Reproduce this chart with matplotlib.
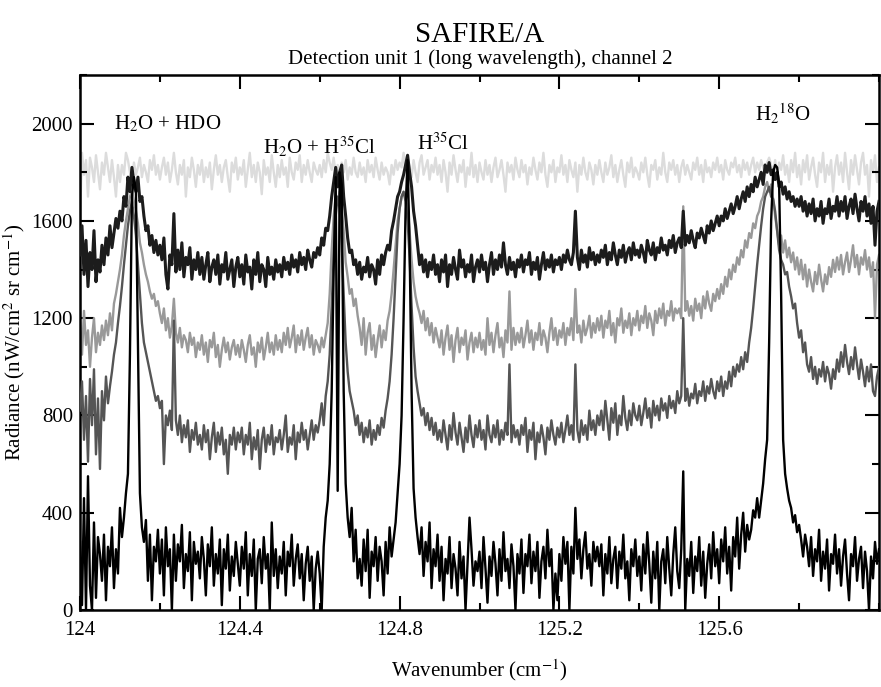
import numpy as np
import matplotlib
matplotlib.use('Agg')
import matplotlib.pyplot as plt
from matplotlib.ticker import MultipleLocator

plt.rcParams['font.family'] = ['Liberation Serif', 'DejaVu Serif']
plt.rcParams['mathtext.fontset'] = 'stix'

# spectra sampled every 0.005 cm-1 starting at 124.0 (one row = 0.1 cm-1)
wn_start = 124.0
wn_step = 0.005

# light grey spectrum
spec_a = [
    1610, 1880, 1790, 1850, 1700, 1860, 1820, 1760, 1870, 1800, 1730, 1840, 1790, 1880, 1820, 1760, 1850, 1780, 1700, 1830,
    1760, 1830, 1790, 1880, 1850, 1800, 1770, 1840, 1790, 1820, 1860, 1780, 1830, 1800, 1760, 1850, 1810, 1870, 1790, 1830,
    1770, 1820, 1860, 1790, 1840, 1760, 1810, 1880, 1800, 1750, 1830, 1790, 1850, 1700, 1820, 1780, 1860, 1810, 1740, 1830,
    1790, 1850, 1760, 1820, 1780, 1840, 1730, 1810, 1870, 1790, 1830, 1760, 1820, 1850, 1780, 1720, 1840, 1800, 1860, 1770,
    1820, 1790, 1850, 1740, 1810, 1880, 1780, 1830, 1760, 1840, 1800, 1710, 1850, 1790, 1820, 1760, 1870, 1800, 1740, 1830,
    1780, 1850, 1790, 1820, 1740, 1860, 1800, 1770, 1840, 1810, 1870, 1760, 1830, 1790, 1850, 1800, 1760, 1840, 1810, 1790,
    1830, 1780, 1850, 1800, 1880, 1840, 1810, 1860, 1790, 1830, 1760, 1840, 1800, 1850, 1770, 1820, 1790, 1860, 1800, 1780,
    1840, 1790, 1820, 1760, 1850, 1800, 1830, 1780, 1860, 1810, 1770, 1840, 1790, 1820, 1800, 1750, 1830, 1790, 1850, 1810,
    1840, 1820, 1880, 1800, 1860, 1820, 1780, 1850, 1800, 1760, 1840, 1870, 1790, 1820, 1850, 1770, 1830, 1800, 1860, 1790,
    1830, 1760, 1850, 1800, 1720, 1840, 1790, 1870, 1810, 1760, 1830, 1800, 1850, 1740, 1820, 1790, 1880, 1780, 1830, 1760,
    1840, 1800, 1770, 1850, 1790, 1830, 1760, 1820, 1860, 1780, 1810, 1850, 1790, 1720, 1840, 1800, 1830, 1770, 1860, 1810,
    1780, 1850, 1800, 1830, 1750, 1820, 1790, 1860, 1810, 1770, 1840, 1800, 1880, 1790, 1740, 1830, 1800, 1850, 1760, 1820,
    1800, 1870, 1790, 1830, 1760, 1850, 1810, 1780, 1840, 1720, 1830, 1790, 1860, 1800, 1770, 1840, 1810, 1750, 1830, 1790,
    1850, 1800, 1760, 1840, 1790, 1820, 1870, 1780, 1830, 1760, 1810, 1850, 1790, 1740, 1840, 1800, 1860, 1780, 1820, 1800,
    1770, 1840, 1800, 1860, 1790, 1740, 1830, 1810, 1850, 1770, 1820, 1790, 1880, 1800, 1760, 1840, 1810, 1850, 1790, 1830,
    1760, 1820, 1850, 1790, 1830, 1800, 1770, 1840, 1810, 1860, 1790, 1830, 1760, 1850, 1800, 1820, 1780, 1840, 1810, 1860,
    1800, 1830, 1770, 1850, 1810, 1790, 1840, 1820, 1860, 1800, 1830, 1780, 1850, 1810, 1840, 1790, 1830, 1860, 1800, 1840,
    1810, 1850, 1820, 1790, 1840, 1860, 1830, 1800, 1850, 1780, 1840, 1810, 1870, 1790, 1830, 1760, 1850, 1800, 1880, 1780,
    1830, 1750, 1850, 1800, 1870, 1770, 1820, 1860, 1790, 1740, 1840, 1800, 1880, 1760, 1830, 1790, 1850, 1720, 1820, 1870,
    1790, 1840, 1760, 1880, 1800, 1730, 1850, 1790, 1870, 1810, 1750, 1840, 1880, 1790, 1830, 1700, 1850, 1800, 1870, 1760,
    1820,
]

# near-black upper spectrum
spec_b = [
    1460, 1580, 1380, 1520, 1330, 1470, 1400, 1560, 1350, 1440, 1390, 1500, 1420, 1530, 1460, 1580, 1490, 1550, 1610, 1570,
    1640, 1600, 1700, 1660, 1780, 1720, 1820, 1760, 1720, 1780, 1680, 1700, 1620, 1560, 1580, 1500, 1540, 1470, 1520, 1460,
    1500, 1440, 1530, 1380, 1320, 1460, 1420, 1630, 1390, 1480, 1400, 1510, 1370, 1450, 1420, 1490, 1360, 1440, 1400, 1470,
    1380, 1450, 1360, 1420, 1470, 1350, 1410, 1440, 1380, 1460, 1340, 1420, 1390, 1470, 1360, 1400, 1440, 1330, 1410, 1450,
    1370, 1420, 1340, 1460, 1390, 1410, 1320, 1440, 1380, 1470, 1350, 1420, 1400, 1330, 1450, 1380, 1410, 1360, 1440, 1390,
    1420, 1370, 1450, 1400, 1430, 1380, 1460, 1410, 1440, 1390, 1470, 1420, 1450, 1400, 1480, 1440, 1410, 1470, 1450, 1490,
    1460, 1530, 1500, 1570, 1560, 1620, 1700, 1760, 1820, 1740, 1800, 1830, 1700, 1620, 1530, 1470, 1480, 1420, 1440, 1380,
    1430, 1360, 1410, 1390, 1450, 1370, 1420, 1400, 1340, 1440, 1380, 1460, 1420, 1470, 1500, 1480, 1560, 1600, 1650, 1700,
    1720, 1760, 1790, 1830, 1870, 1800, 1740, 1640, 1580, 1500, 1420, 1460, 1390, 1440, 1370, 1430, 1400, 1460, 1380, 1420,
    1350, 1440, 1390, 1460, 1330, 1420, 1380, 1450, 1400, 1360, 1480, 1410, 1440, 1370, 1420, 1390, 1460, 1350, 1410, 1440,
    1390, 1460, 1400, 1430, 1350, 1420, 1470, 1380, 1440, 1400, 1460, 1410, 1510, 1420, 1380, 1450, 1400, 1430, 1370, 1440,
    1410, 1460, 1390, 1440, 1420, 1470, 1380, 1430, 1400, 1450, 1360, 1420, 1470, 1400, 1440, 1410, 1460, 1390, 1440, 1420,
    1450, 1400, 1460, 1430, 1480, 1440, 1420, 1470, 1640, 1450, 1400, 1480, 1430, 1460, 1410, 1490, 1440, 1470, 1420, 1460,
    1430, 1480, 1450, 1500, 1420, 1470, 1440, 1510, 1460, 1420, 1480, 1450, 1500, 1430, 1470, 1490, 1440, 1510, 1460, 1480,
    1450, 1500, 1470, 1430, 1520, 1480, 1460, 1510, 1440, 1490, 1470, 1530, 1480, 1500, 1460, 1520, 1490, 1540, 1470, 1510,
    1530, 1490, 1640, 1500, 1540, 1510, 1560, 1520, 1490, 1550, 1530, 1570, 1540, 1510, 1580, 1550, 1600, 1560, 1590, 1620,
    1580, 1620, 1600, 1650, 1610, 1640, 1670, 1630, 1660, 1700, 1650, 1690, 1720, 1680, 1740, 1700, 1750, 1720, 1780, 1740,
    1770, 1800, 1750, 1830, 1800, 1840, 1790, 1810, 1770, 1800, 1740, 1760, 1710, 1740, 1690, 1720, 1680, 1700, 1660, 1690,
    1660, 1700, 1640, 1680, 1620, 1670, 1630, 1690, 1600, 1650, 1620, 1680, 1590, 1650, 1630, 1690, 1610, 1660, 1640, 1700,
    1620, 1680, 1640, 1700, 1610, 1660, 1690, 1630, 1710, 1650, 1600, 1680, 1640, 1700, 1620, 1670, 1590, 1660, 1500, 1640,
    1680,
]

# mid grey spectrum
spec_c = [
    1180, 1050, 1230, 1090, 1150, 1000, 1120, 1200, 1060, 1140, 1090, 1170, 1110, 1190, 1130, 1220, 1150, 1260, 1300, 1350,
    1400, 1460, 1540, 1600, 1650, 1700, 1720, 1680, 1640, 1590, 1510, 1470, 1420, 1380, 1350, 1310, 1280, 1300, 1250, 1270,
    1220, 1180, 1240, 1150, 1200, 1120, 1170, 1280, 1140, 1100, 1160, 1080, 1130, 1110, 1060, 1140, 1090, 1120, 1040, 1100,
    1070, 1130, 1050, 1100, 1020, 1110, 1080, 1140, 1040, 1090, 1000, 1070, 1120, 1060, 1100, 1030, 1080, 1110, 1050, 1090,
    1040, 1110, 1070, 1020, 1090, 1130, 1050, 1080, 1000, 1100, 1060, 1120, 1030, 1080, 1140, 1060, 1100, 1050, 1130, 1070,
    1110, 1060, 1140, 1090, 1160, 1080, 1120, 1170, 1060, 1130, 1090, 1150, 1070, 1120, 1160, 1080, 1130, 1050, 1110, 1090,
    1060, 1120, 1080, 1130, 1180, 1300, 1480, 1620, 1700, 1680, 1720, 1650, 1560, 1430, 1370, 1300, 1320, 1250, 1280, 1210,
    1160, 1090, 1200, 1050, 1140, 1180, 1070, 1130, 1040, 1110, 1170, 1080, 1150, 1110, 1190, 1230, 1300, 1400, 1500, 1600,
    1650, 1700, 1720, 1690, 1660, 1560, 1440, 1350, 1290, 1250, 1220, 1180, 1230, 1150, 1200, 1130, 1180, 1100, 1160, 1120,
    1080, 1150, 1050, 1120, 1170, 1070, 1130, 1020, 1110, 1160, 1060, 1120, 1090, 1150, 1030, 1100, 1140, 1060, 1120, 1080,
    1140, 1070, 1110, 1050, 1200, 1090, 1140, 1060, 1130, 1180, 1080, 1120, 1040, 1150, 1100, 1310, 1070, 1160, 1090, 1140,
    1100, 1160, 1080, 1130, 1190, 1100, 1150, 1070, 1140, 1110, 1180, 1090, 1150, 1120, 1060, 1140, 1200, 1110, 1160, 1090,
    1150, 1120, 1180, 1090, 1160, 1130, 1200, 1110, 1320, 1140, 1170, 1100, 1190, 1130, 1160, 1210, 1120, 1180, 1140, 1200,
    1150, 1210, 1120, 1190, 1160, 1230, 1130, 1180, 1100, 1200, 1170, 1240, 1140, 1190, 1160, 1220, 1130, 1200, 1170, 1230,
    1150, 1210, 1180, 1250, 1160, 1220, 1190, 1130, 1230, 1180, 1240, 1200, 1260, 1170, 1230, 1210, 1270, 1190, 1240, 1220,
    1240, 1200, 1660, 1230, 1270, 1210, 1250, 1190, 1280, 1230, 1260, 1200, 1290, 1240, 1310, 1260, 1230, 1300, 1270, 1320,
    1280, 1340, 1300, 1370, 1330, 1400, 1360, 1420, 1390, 1450, 1420, 1480, 1450, 1520, 1490, 1550, 1530, 1590, 1570, 1620,
    1640, 1680, 1700, 1740, 1760, 1720, 1750, 1690, 1620, 1560, 1500, 1540, 1470, 1520, 1450, 1490, 1430, 1470, 1400, 1450,
    1380, 1440, 1360, 1420, 1330, 1400, 1350, 1310, 1390, 1340, 1420, 1360, 1310, 1380, 1340, 1410, 1370, 1440, 1390, 1450,
    1400, 1460, 1380, 1430, 1470, 1390, 1440, 1500, 1410, 1460, 1380, 1450, 1420, 1480, 1400, 1450, 1370, 1430, 1200, 1420,
    1460,
]

# dark grey spectrum
spec_d = [
    820, 940, 700, 880, 610, 950, 760, 990, 640, 870, 580, 900, 780, 960, 850, 920, 980, 1050, 1100, 1180,
    1250, 1330, 1420, 1500, 1580, 1640, 1680, 1620, 1540, 1420, 1300, 1180, 1100, 1060, 1020, 980, 940, 900, 860, 880,
    830, 860, 600, 800, 760, 820, 740, 1190, 780, 720, 800, 690, 760, 710, 780, 650, 740, 700, 770, 680,
    720, 660, 760, 690, 740, 620, 710, 770, 650, 730, 680, 750, 640, 700, 560, 720, 680, 750, 660, 730,
    690, 750, 640, 720, 680, 770, 620, 710, 660, 740, 580, 700, 750, 650, 720, 680, 760, 640, 710, 690,
    740, 660, 720, 800, 650, 710, 680, 760, 620, 730, 690, 770, 700, 740, 660, 720, 780, 700, 760, 730,
    780, 850, 760, 880, 940, 1050, 1250, 1450, 1620, 1700, 1650, 1500, 1300, 1100, 980, 900, 860, 820, 760, 800,
    720, 770, 690, 750, 710, 780, 680, 740, 700, 760, 720, 790, 750, 820, 870, 940, 1050, 1200, 1380, 1550,
    1650, 1700, 1720, 1680, 1600, 1450, 1250, 1080, 960, 900, 850, 800, 830, 760, 810, 740, 790, 720, 770, 700,
    740, 690, 780, 720, 660, 760, 700, 810, 730, 680, 770, 710, 650, 750, 690, 800, 720, 670, 760, 710,
    780, 700, 740, 660, 800, 720, 690, 760, 710, 780, 680, 740, 700, 770, 720, 1010, 690, 760, 710, 740,
    680, 760, 720, 790, 650, 740, 700, 770, 620, 730, 690, 760, 710, 640, 750, 700, 780, 720, 680, 750,
    710, 770, 690, 740, 800, 720, 760, 700, 1010, 740, 690, 780, 720, 760, 700, 820, 740, 780, 720, 800,
    760, 820, 740, 860, 780, 700, 830, 770, 850, 720, 800, 760, 880, 790, 740, 820, 760, 850, 800, 780,
    840, 760, 810, 870, 790, 830, 750, 860, 800, 840, 780, 870, 820, 850, 790, 880, 830, 860, 810, 900,
    850, 880, 1200, 860, 910, 840, 890, 870, 930, 850, 900, 880, 940, 860, 920, 890, 950, 900, 870, 940,
    900, 960, 880, 940, 910, 980, 920, 1000, 960, 1010, 980, 1040, 990, 1060, 1020, 1100, 1160, 1240, 1330, 1420,
    1500, 1580, 1650, 1700, 1720, 1740, 1700, 1690, 1640, 1560, 1480, 1440, 1420, 1380, 1390, 1330, 1290, 1240, 1260, 1180,
    1120, 1150, 1060, 1100, 1010, 980, 1040, 950, 1000, 930, 990, 960, 1020, 940, 1000, 970, 910, 990, 950, 1030,
    980, 1060, 1000, 1090, 1020, 970, 1040, 990, 1080, 1010, 950, 1030, 980, 920, 1000, 940, 1010, 900, 880, 960,
    1000,
]

# black lower spectrum
spec_e = [
    280, 20, 460, 0, 550, 100, 0, 360, 50, 300, 230, 120, 310, 40, 260, 180, 340, 90, 250, 150,
    420, 300, 380, 480, 560, 1050, 1700, 1780, 1720, 1100, 480, 340, 280, 370, 120, 310, 40, 260, 200, 330,
    150, 290, 60, 340, 180, 250, 0, 310, 120, 270, 200, 350, 90, 230, 160, 320, 40, 280, 190, 240,
    130, 300, 210, 60, 270, 180, 340, 100, 230, 150, 290, 20, 250, 170, 310, 80, 220, 140, 280, 190,
    100, 260, 170, 320, 60, 230, 140, 290, 0, 210, 250, 110, 300, 170, 230, 0, 360, 140, 250, 90,
    220, 150, 280, 60, 240, 180, 310, 100, 210, 270, 130, 230, 40, 190, 260, 120, 220, 0, 170, 240,
    150, 0, 260, 380, 450, 600, 900, 1400, 1780, 490, 1800, 1750, 900, 520, 380, 300, 420, 200, 330, 130,
    210, 100, 290, 160, 330, 50, 240, 180, 300, 120, 260, 200, 60, 280, 150, 340, 220, 290, 360, 480,
    600, 800, 1200, 1650, 1850, 1500, 900, 500, 380, 300, 230, 340, 140, 280, 200, 360, 90, 250, 180, 310,
    120, 260, 40, 210, 150, 300, 90, 230, 170, 60, 280, 130, 220, 0, 190, 380, 250, 100, 200, 160,
    240, 90, 300, 170, 30, 220, 140, 280, 190, 60, 250, 120, 320, 160, 210, 90, 270, 180, 0, 230,
    150, 290, 70, 230, 180, 310, 110, 240, 160, 280, 50, 200, 260, 130, 330, 180, 250, 0, 150, 40,
    230, 120, 300, 190, 280, 0, 260, 150, 420, 210, 290, 130, 250, 320, 170, 230, 100, 280, 200, 260,
    180, 270, 60, 230, 150, 300, 110, 210, 260, 90, 240, 170, 310, 130, 200, 40, 250, 180, 290, 140,
    220, 80, 270, 150, 320, 190, 30, 240, 130, 280, 0, 200, 250, 110, 300, 170, 60, 230, 340, 160,
    90, 250, 570, 0, 210, 140, 280, 70, 220, 160, 300, 100, 240, 50, 190, 270, 130, 320, 180, 250,
    110, 290, 200, 340, 150, 260, 80, 300, 220, 380, 170, 310, 400, 240, 350, 290, 330, 410, 380, 460,
    380, 450, 520, 620, 700, 1100, 1600, 1800, 1830, 1820, 1750, 1300, 700, 560, 500, 450, 420, 360, 390, 320,
    350, 290, 220, 310, 260, 180, 300, 140, 250, 200, 330, 120, 240, 170, 290, 80, 230, 190, 310, 150,
    250, 100, 220, 290, 150, 40, 230, 180, 300, 120, 210, 260, 90, 240, 160, 0, 220, 130, 280, 190,
    250,
]

labels = [r'H$_2$O + HDO', r'H$_2$O + H$^{35}$Cl', r'H$^{35}$Cl', r'H$_2$$^{18}$O']
label_x = [124.22, 124.60, 124.91, 125.76]
label_y = [2000, 1905, 1915, 2040]


def wavenumbers(spec):
    return wn_start + wn_step * np.arange(len(spec))


fig = plt.figure(figsize=(8.81, 6.87), dpi=100)
ax = fig.add_axes([80 / 881, 77 / 687, 799 / 881, 535 / 687])

ax.plot(wavenumbers(spec_a), spec_a, color='#dcdcdc', lw=1.7, zorder=1)
ax.plot(wavenumbers(spec_c), spec_c, color='#999999', lw=1.7, zorder=2)
ax.plot(wavenumbers(spec_d), spec_d, color='#555555', lw=1.7, zorder=3)
ax.plot(wavenumbers(spec_b), spec_b, color='#1c1c1c', lw=2.2, zorder=4)
ax.plot(wavenumbers(spec_e), spec_e, color='black', lw=1.7, zorder=5)

for txt, x, y in zip(labels, label_x, label_y):
    ax.text(x, y, txt, ha='center', va='center', fontsize=15)

ax.set_xlim(124.0, 126.0)
ax.set_ylim(0, 2200)
ax.xaxis.set_minor_locator(MultipleLocator(0.2))
ax.yaxis.set_minor_locator(MultipleLocator(200))
ax.set_xticks([124, 124.4, 124.8, 125.2, 125.6])
ax.set_xticklabels(['124', '124.4', '124.8', '125.2', '125.6'])
ax.set_yticks([0, 400, 800, 1200, 1600, 2000])

ax.tick_params(which='both', direction='in', top=True, right=True, width=1.5, labelsize=15)
ax.tick_params(which='major', length=10)
ax.tick_params(which='minor', length=5)
ax.tick_params(axis='x', pad=8)
ax.tick_params(axis='y', pad=5)
for sp in ax.spines.values():
    sp.set_linewidth(1.8)

ax.set_xlabel(r'Wavenumber (cm$^{-1}$)', fontsize=15, labelpad=12)
ax.set_ylabel(r'Radiance (nW/cm$^2$ sr cm$^{-1}$)', fontsize=15)
ax.yaxis.set_label_coords(-0.066, 0.5)

fig.text(480 / 881, 1 - 42 / 687, 'SAFIRE/A', ha='center', va='baseline', fontsize=21)
fig.text(480 / 881, 1 - 64 / 687, 'Detection unit 1 (long wavelength), channel 2',
         ha='center', va='baseline', fontsize=15)

fig.savefig('out.png', dpi=100)
